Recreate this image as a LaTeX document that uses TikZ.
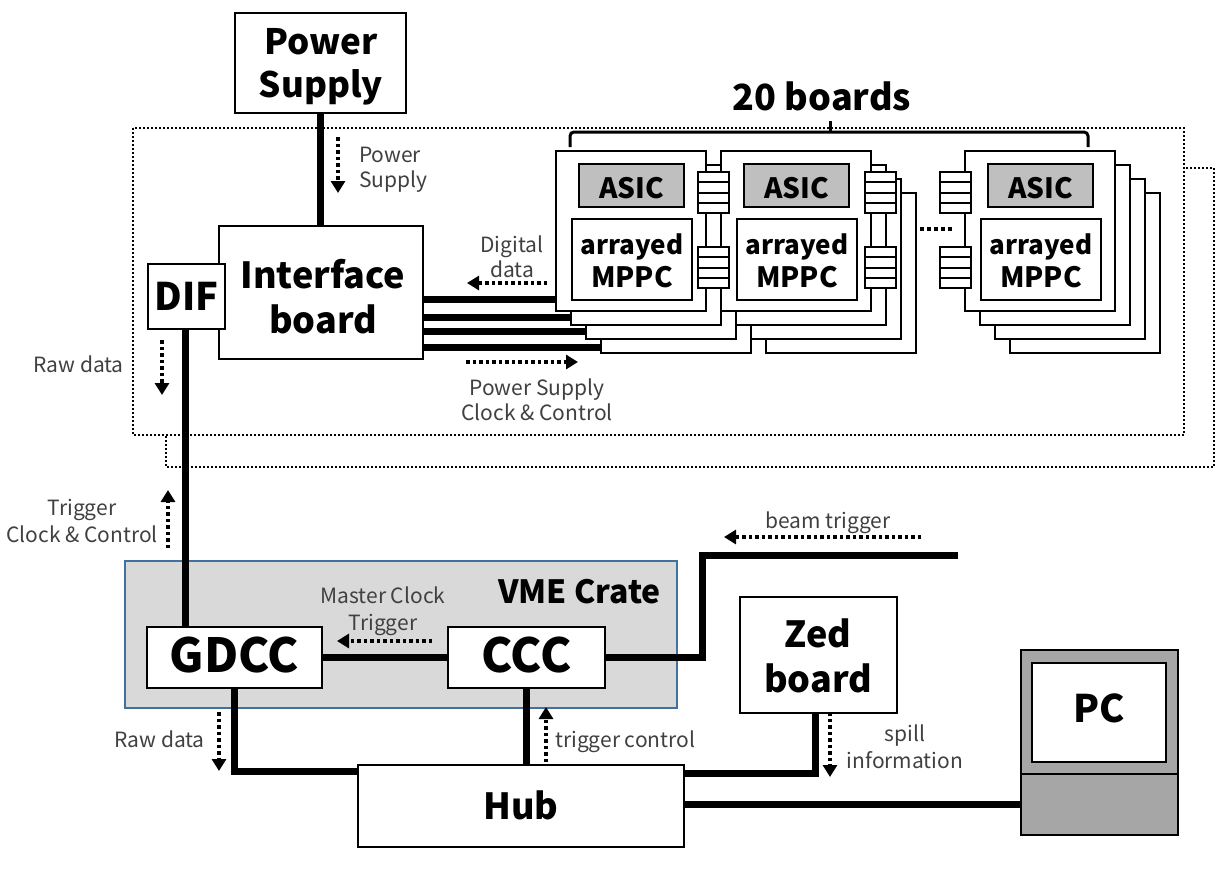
\documentclass[tikz,border=0pt]{standalone}
\usepackage{fontspec}
\setmainfont{Noto Sans CJK JP}
\usetikzlibrary{arrows.meta}
\definecolor{asicgray}{HTML}{BFBFBF}
\definecolor{vmefill}{HTML}{D9D9D9}
\definecolor{vmeedge}{HTML}{41719C}
\definecolor{pcgray}{HTML}{A6A6A6}
\definecolor{labelgray}{HTML}{404040}
\pgfdeclarelayer{bg}
\pgfdeclarelayer{lines}
\pgfsetlayers{bg,lines,main}
\begin{document}
\begin{tikzpicture}[x=1pt,y=-1pt,
  box/.style={draw, line width=2.6pt, fill=white, inner sep=0pt, outer sep=0pt},
  bigtxt/.style={font=\bfseries\fontsize{#1}{#1}\selectfont, inner sep=0pt},
  smalltxt/.style={font=\fontsize{21}{21}\selectfont, text=labelgray, inner sep=0pt},
  wire/.style={line width=7pt},
  darrow/.style={line width=3.5pt, dash pattern=on 3.5pt off 3pt, -{Triangle[length=12pt,width=14pt]}},
  dotbox/.style={line width=2pt, dash pattern=on 2pt off 2pt},
  conn/.pic={
    \draw[line width=2pt, fill=white] (0,0) rectangle (31,41);
    \foreach \q in {10.25,20.5,30.75} \draw[line width=2pt] (0,\q) -- (31,\q);
  }
]
\useasboundingbox (0,0) rectangle (1232,868);

% ---------- background ----------
\begin{pgfonlayer}{bg}
  \draw[dotbox] (166,168) rectangle (1214,467);
  \draw[dotbox, fill=white] (133,128) rectangle (1184,435);
  \node[draw=vmeedge, line width=2pt, fill=vmefill, inner sep=0pt, minimum width=552pt, minimum height=147pt] (vme) at (401,634.5) {};
\end{pgfonlayer}

% ---------- main boxes ----------
\node[box, minimum width=171pt, minimum height=100pt] (ps) at (320.5,63) {};
\node[bigtxt=35, anchor=base] (pst1) at (321,54) {Power};
\node[bigtxt=35, anchor=base] (pst2) at (321,97) {Supply};

\node[box, minimum width=204pt, minimum height=133pt] (ib) at (321,292.5) {};
\node[bigtxt=36, anchor=base] (ibt1) at (323,288) {Interface};
\node[bigtxt=36, anchor=base] (ibt2) at (323,333) {board};

\node[box, minimum width=77pt, minimum height=65pt, bigtxt=38, text height=28pt, text depth=1pt] (dif) at (186.5,296.5) {DIF};

\node[box, minimum width=175pt, minimum height=61pt, bigtxt=47, text height=30pt, text depth=1pt] (gdcc) at (234.5,657.5) {GDCC};
\node[box, minimum width=157pt, minimum height=61pt, bigtxt=47, text height=30pt, text depth=1pt] (ccc) at (526.5,657.5) {CCC};
\node[bigtxt=32, anchor=base west] (vmet) at (498,603) {VME Crate};

\node[box, minimum width=326pt, minimum height=82pt, bigtxt=36, text height=28pt, text depth=2pt] (hub) at (521,806) {Hub};

\node[box, minimum width=157pt, minimum height=116pt] (zed) at (818.5,655) {};
\node[bigtxt=36, anchor=base] (zedt1) at (818,647) {Zed};
\node[bigtxt=36, anchor=base] (zedt2) at (818,692) {board};

\node[box, fill=pcgray, minimum width=157pt, minimum height=185pt] (pc) at (1099.5,742.5) {};
\node[box, fill=pcgray, minimum width=157pt, minimum height=61pt] (pcbase) at (1099.5,804.5) {};
\node[box, minimum width=134pt, minimum height=99pt, bigtxt=38, text height=27pt, text depth=8pt] (pcscreen) at (1099,712.5) {PC};

% ---------- board stacks ----------
\foreach \sn/\xo in {1/556,2/721,3/965}{
  \foreach \k in {3,2,1,0}{
    \node[box, minimum width=150pt, minimum height=160pt] (s\sn-\k) at ({\xo+75+15*\k},{231+14*\k}) {};
  }
  \node[box, fill=asicgray, minimum width=105pt, minimum height=43pt, bigtxt=28, text height=25pt, text depth=0pt] (asic\sn) at ({\xo+75.5},185.5) {ASIC};
  \node[box, minimum width=120pt, minimum height=81pt] (mppc\sn) at ({\xo+76},259.5) {};
  \node[bigtxt=26, anchor=base] (arr\sn) at ({\xo+76},254) {arrayed};
  \node[bigtxt=28, anchor=base] (mp\sn) at ({\xo+76},287) {MPPC};
}
\pic at (698,172) {conn};
\pic at (698,247) {conn};
\pic at (865,172) {conn};
\pic at (865,247) {conn};
\pic at (940,172) {conn};
\pic at (940,247) {conn};
\coordinate (dots1) at (920,229);
\coordinate (dots2) at (952,229);
\draw[line width=3.5pt, dash pattern=on 3.5pt off 3.5pt] (dots1) -- (dots2);

% bracket
\coordinate (brl) at (570,147);
\coordinate (brr) at (1088,132);
\coordinate (brrb) at (1088,147);
\coordinate (brm) at (830,132);
\coordinate (brt) at (830,121);
\draw[line width=3pt, rounded corners=4pt] (brl) |- (brr) -- (brrb);
\draw[line width=3pt] (brm) -- (brt);
\node[bigtxt=36, anchor=base] (nb) at (822,110) {20 boards};

% ---------- wires ----------
\coordinate (bcorner) at (702,555);
\coordinate (bend) at (958,555);
\begin{pgfonlayer}{lines}
  \draw[wire] (ps.south) -- (ps.south |- ib.north);
  \draw[wire] ([xshift=-1.5pt]dif.south) -- ([xshift=-1.5pt]dif.south |- gdcc.north);
  \draw[wire] (ib.east |- 0,299) -- (s1-0.west |- 0,299);
  \draw[wire] (ib.east |- 0,317) -- (s1-1.west |- 0,317);
  \draw[wire] (ib.east |- 0,331) -- (s1-2.west |- 0,331);
  \draw[wire] (ib.east |- 0,347) -- (s1-3.west |- 0,347);
  \draw[wire] (gdcc.east) -- (ccc.west);
  \draw[wire] (gdcc.south) |- ([yshift=-6pt]hub.north west);
  \draw[wire] (ccc.south) -- (ccc.south |- hub.north);
  \draw[wire] ([xshift=-3.5pt]zed.south) |- ([yshift=-8pt]hub.north east);
  \draw[wire] (hub.east |- pcbase.west) -- (pcbase.west);
  \draw[wire] (ccc.east) -| (bcorner) -- (bend);
\end{pgfonlayer}

% ---------- dotted arrows ----------
\coordinate (a1s) at (338,137);  \coordinate (a1e) at (338,193);
\coordinate (a2s) at (547,283);  \coordinate (a2e) at (467,283);
\coordinate (a3s) at (466,362);  \coordinate (a3e) at (578,362);
\coordinate (a4s) at (162,340);  \coordinate (a4e) at (162,395);
\coordinate (a5s) at (168,548);  \coordinate (a5e) at (168,490);
\coordinate (a6s) at (432,641);  \coordinate (a6e) at (337,641);
\coordinate (a7s) at (921,537);  \coordinate (a7e) at (724,537);
\coordinate (a8s) at (219,712);  \coordinate (a8e) at (219,771);
\coordinate (a9s) at (546,762);  \coordinate (a9e) at (546,707);
\coordinate (a10s) at (830,712); \coordinate (a10e) at (830,777);
\foreach \i in {1,...,10} \draw[darrow] (a\i s) -- (a\i e);

% ---------- small labels ----------
\node[smalltxt, anchor=base west] (lps1) at (359,162) {Power};
\node[smalltxt, anchor=base west] (lps2) at (359,187) {Supply};
\node[smalltxt, anchor=base] (ldd1) at (512,252) {Digital};
\node[smalltxt, anchor=base] (ldd2) at (512,277) {data};
\node[smalltxt, anchor=base] (lpc1) at (537,395) {Power Supply};
\node[smalltxt, anchor=base] (lpc2) at (537,420) {Clock \& Control};
\node[smalltxt, anchor=base east] (lrd1) at (124,372) {Raw data};
\node[smalltxt, anchor=base] (ltc1) at (82,515) {Trigger};
\node[smalltxt, anchor=base] (ltc2) at (82,542) {Clock \& Control};
\node[smalltxt, anchor=base] (lmc1) at (383,603) {Master Clock};
\node[smalltxt, anchor=base] (lmc2) at (383,630) {Trigger};
\node[smalltxt, anchor=base] (lbt) at (828,528) {beam trigger};
\node[smalltxt, anchor=base east] (lrd2) at (205,747) {Raw data};
\node[smalltxt, anchor=base west] (ltr) at (555,747) {trigger control};
\node[smalltxt, anchor=base] (lsp1) at (905,741) {spill};
\node[smalltxt, anchor=base] (lsp2) at (905,768) {information};
\end{tikzpicture}
\end{document}
